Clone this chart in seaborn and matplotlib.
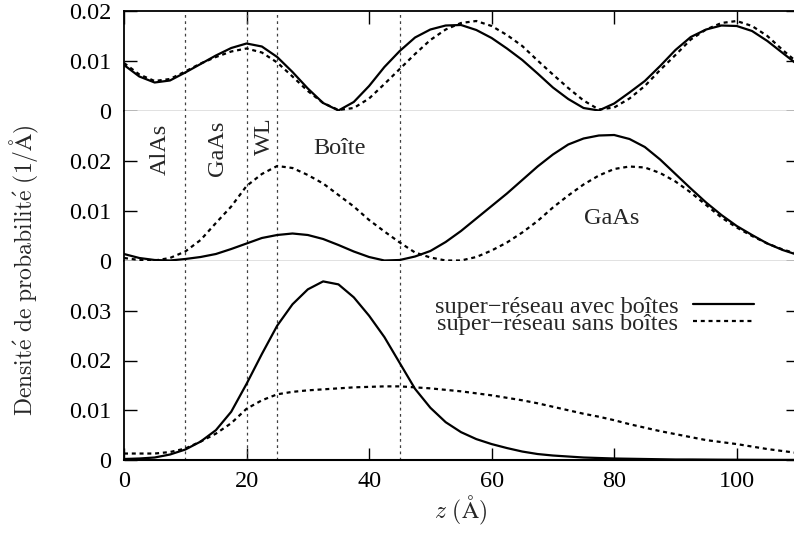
import matplotlib
matplotlib.use("Agg")
import matplotlib.pyplot as plt
import seaborn as sns
import numpy as np

# ---- data ----
z = [0, 2.5, 5, 7.5, 10, 12.5, 15, 17.5, 20, 22.5, 25, 27.5, 30, 32.5, 35, 37.5,
     40, 42.5, 45, 47.5, 50, 52.5, 55, 57.5, 60, 62.5, 65, 67.5, 70, 72.5, 75,
     77.5, 80, 82.5, 85, 87.5, 90, 92.5, 95, 97.5, 100, 102.5, 105, 107.5, 110]

top_avec = [0.0092, 0.0069, 0.0057, 0.0061, 0.0077, 0.0094, 0.0111, 0.0126, 0.0135,
            0.0129, 0.0108, 0.0078, 0.0045, 0.0016, 0.0001, 0.0018, 0.0050, 0.0088,
            0.0120, 0.0147, 0.0163, 0.0171, 0.0172, 0.0162, 0.0146, 0.0125, 0.0102,
            0.0075, 0.0047, 0.0024, 0.0006, 0.0001, 0.0015, 0.0037, 0.0060, 0.0090,
            0.0122, 0.0148, 0.0163, 0.0171, 0.0170, 0.0160, 0.0140, 0.0116, 0.0092]
top_sans = [0.0096, 0.0073, 0.0060, 0.0064, 0.0079, 0.0095, 0.0108, 0.0119, 0.0125,
            0.0117, 0.0097, 0.0069, 0.0040, 0.0016, 0.0002, 0.0006, 0.0025, 0.0054,
            0.0084, 0.0114, 0.0142, 0.0163, 0.0176, 0.0180, 0.0170, 0.0152, 0.0130,
            0.0101, 0.0073, 0.0046, 0.0021, 0.0003, 0.0007, 0.0025, 0.0050, 0.0082,
            0.0112, 0.0143, 0.0163, 0.0176, 0.0180, 0.0170, 0.0150, 0.0122, 0.0096]

mid_avec = [0.0014, 0.0006, 0.0002, 0.0001, 0.0004, 0.0008, 0.0014, 0.0024, 0.0035,
            0.0046, 0.0052, 0.0055, 0.0052, 0.0044, 0.0032, 0.0019, 0.0008, 0.0001,
            0.0002, 0.0009, 0.0020, 0.0038, 0.0060, 0.0085, 0.0110, 0.0135, 0.0162,
            0.0189, 0.0213, 0.0233, 0.0245, 0.0251, 0.0252, 0.0244, 0.0228, 0.0203,
            0.0174, 0.0145, 0.0117, 0.0092, 0.0070, 0.0052, 0.0035, 0.0022, 0.0012]
mid_sans = [0.0006, 0.0002, 0.0001, 0.0006, 0.0019, 0.0042, 0.0076, 0.0109, 0.0150,
            0.0174, 0.0190, 0.0186, 0.0172, 0.0155, 0.0132, 0.0109, 0.0082, 0.0059,
            0.0037, 0.0017, 0.0007, 0.0001, 0.0001, 0.0008, 0.0021, 0.0037, 0.0057,
            0.0080, 0.0107, 0.0131, 0.0153, 0.0171, 0.0184, 0.0189, 0.0187, 0.0176,
            0.0159, 0.0137, 0.0112, 0.0087, 0.0067, 0.0050, 0.0035, 0.0023, 0.0014]

bot_avec = [0.0002, 0.0003, 0.0005, 0.0011, 0.0021, 0.0037, 0.0060, 0.0097, 0.0153,
            0.0213, 0.0270, 0.0313, 0.0343, 0.0359, 0.0353, 0.0327, 0.0290, 0.0247,
            0.0195, 0.0143, 0.0105, 0.0076, 0.0056, 0.0042, 0.0032, 0.0024, 0.0017,
            0.0012, 0.0009, 0.0007, 0.0005, 0.0004, 0.0003, 0.00025, 0.0002, 0.00015,
            0.0001, 0.0001, 0.00008, 0.00006, 0.00005, 0.00004, 0.00003, 0.00002, 0.00002]
bot_sans = [0.0013, 0.0013, 0.0013, 0.0016, 0.0023, 0.0037, 0.0053, 0.0074, 0.0103,
            0.0120, 0.0132, 0.0137, 0.0140, 0.0142, 0.0144, 0.0146, 0.0147, 0.0148,
            0.0148, 0.0146, 0.0144, 0.0141, 0.0138, 0.0134, 0.0130, 0.0125, 0.0120,
            0.0114, 0.0107, 0.0100, 0.0093, 0.0087, 0.0080, 0.0072, 0.0065, 0.0058,
            0.0052, 0.0046, 0.0040, 0.0036, 0.0032, 0.0027, 0.0022, 0.0018, 0.0014]

interfaces = [10, 20, 25, 45]
legend_labels = ["super\u2212réseau avec boîtes", "super\u2212réseau sans boîtes"]
top_yticks = [0, 0.01, 0.02]
mid_yticks = [0, 0.01, 0.02]
bot_yticks = [0, 0.01, 0.02, 0.03]
xticks = [0, 20, 40, 60, 80, 100]

# ---- style ----
sns.set_theme(style="ticks")
plt.rcParams["font.family"] = ["Liberation Serif", "DejaVu Serif"]
plt.rcParams["mathtext.fontset"] = "cm"
FS = 17.5

fig = plt.figure(figsize=(7.94, 5.34), dpi=100)
L, W = 124 / 794, 674 / 794
H = 534
ax_top = fig.add_axes([L, 1 - 111 / H, W, 100 / H])
ax_mid = fig.add_axes([L, 1 - 261 / H, W, 150 / H])
ax_bot = fig.add_axes([L, 1 - 460 / H, W, 199 / H])

solid_kw = dict(color="black", linewidth=1.6)
dash_kw = dict(color="black", linewidth=1.6, linestyle=(0, (1.8, 1.7)))

panels = [
    (ax_top, top_avec, top_sans, 0.02, top_yticks),
    (ax_mid, mid_avec, mid_sans, 0.03, mid_yticks),
    (ax_bot, bot_avec, bot_sans, 0.04, bot_yticks),
]
for ax, ya, ys, ymax, yt in panels:
    for xv in interfaces:
        ax.axvline(xv, color="0.25", linewidth=0.9, linestyle=(0, (2.2, 2.8)), zorder=1)
    sns.lineplot(x=z, y=ya, ax=ax, label=legend_labels[0], zorder=3, **solid_kw)
    sns.lineplot(x=z, y=ys, ax=ax, label=legend_labels[1], zorder=3, **dash_kw)
    ax.set_xlim(0, 110)
    ax.set_ylim(0, ymax)
    ax.set_yticks(yt)
    ax.set_yticklabels(["0" if v == 0 else f"{v:g}" for v in yt], fontsize=FS)
    ax.set_xlabel("")
    ax.set_ylabel("")
    ax.tick_params(axis="y", direction="in", length=9, width=1, left=True, right=True,
                   pad=9, colors="black")
    ax.tick_params(axis="x", direction="in", length=9, width=1, pad=8, colors="black")
    for s in ax.spines.values():
        s.set_color("black")
        s.set_linewidth(1.3)
    if ax.get_legend() is not None:
        ax.get_legend().remove()

# separators between panels (gray zero lines)
for ax in (ax_top, ax_mid):
    ax.spines["bottom"].set_color("0.4")
    ax.spines["bottom"].set_linewidth(1.0)
    ax.tick_params(axis="x", bottom=False, labelbottom=False)
for ax in (ax_mid, ax_bot):
    ax.spines["top"].set_visible(False)
ax_top.set_xticks(xticks)
ax_top.tick_params(axis="x", top=True, labeltop=False)
ax_mid.tick_params(axis="x", top=False)
ax_bot.set_xticks(xticks)
ax_bot.set_xticklabels([str(v) for v in xticks], fontsize=FS)
ax_bot.tick_params(axis="x", bottom=True, top=False)
ax_bot.spines["bottom"].set_linewidth(1.5)

# annotations in middle panel
ax_mid.text(5.9, 0.0224, "AlAs", rotation=90, ha="center", va="center", fontsize=FS)
ax_mid.text(15.3, 0.0226, "GaAs", rotation=90, ha="center", va="center", fontsize=FS)
ax_mid.text(23.0, 0.0250, "WL", rotation=90, ha="center", va="center", fontsize=FS)
ax_mid.text(35.2, 0.0226, "Boîte", ha="center", va="center", fontsize=FS)
ax_mid.text(79.6, 0.0086, "GaAs", ha="center", va="center", fontsize=FS)

# legend
h, l = ax_bot.get_legend_handles_labels()
ax_bot.legend(h[:2], l[:2], loc="upper right", bbox_to_anchor=(0.934, 0.825),
              frameon=False, markerfirst=False, fontsize=FS, handlelength=2.5,
              handletextpad=0.6, labelspacing=-0.2, borderpad=0, borderaxespad=0)

# axis labels
fig.text(24 / 794, 1 - 270 / H, r"$\mathrm{Densit\acute{e}\ de\ probabilit\acute{e}\ (1/\AA)}$",
         rotation=90, ha="center", va="center", fontsize=17)
fig.text(460 / 794, 1 - 510 / H, r"$z\ (\mathrm{\AA})$", ha="center", va="center", fontsize=17)

fig.savefig("out.png", dpi=100)
